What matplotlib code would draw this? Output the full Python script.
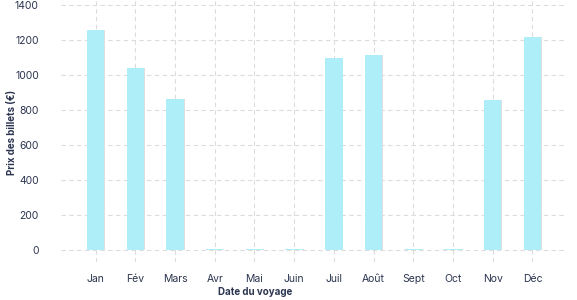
import numpy as np
import matplotlib
matplotlib.use("Agg")
import matplotlib.pyplot as plt

months = ['Jan', 'Fév', 'Mars', 'Avr', 'Mai', 'Juin', 'Juil', 'Août', 'Sept', 'Oct', 'Nov', 'Déc']
prices = [1255, 1038, 865, 4, 4, 4, 1100, 1115, 4, 4, 855, 1215]
y_ticks = [0, 200, 400, 600, 800, 1000, 1200, 1400]

text_color = '#2b3550'
bar_color = '#aeeef8'
grid_color = '#dcdcdc'

plt.rcParams['font.family'] = ['Inter', 'DejaVu Sans']

fig = plt.figure(figsize=(5.77, 3.0), dpi=100)
ax = fig.add_axes([61 / 577, 38 / 300, 506 / 577, 262 / 300])

x = np.arange(len(months))
# faint shadow on the right of each bar
ax.bar(x + 0.02, prices, width=0.44, color='#dedede', zorder=2)
ax.bar(x, prices, width=0.44, color=bar_color, zorder=3)

ax.set_xlim(-0.87, 11.87)
ax.set_ylim(-68.6, 1428.6)
ax.set_xticks(x)
ax.set_xticklabels(months)
ax.set_yticks(y_ticks)

ax.grid(True, color=grid_color, linestyle=(0, (4, 3)), linewidth=0.8, zorder=0)
ax.tick_params(length=0, labelsize=7.5, colors=text_color)
ax.tick_params(axis='x', pad=9)
ax.tick_params(axis='y', pad=16)
for s in ax.spines.values():
    s.set_visible(False)

ax.set_xlabel('Date du voyage', fontsize=7, fontweight='bold', color=text_color)
ax.set_ylabel('Prix des billets (€)', fontsize=7, fontweight='bold', color=text_color)
ax.xaxis.set_label_coords((255 - 61) / 506, (262 - 287) / 262)
ax.yaxis.set_label_coords((17 - 61) / 506, (262 - 132) / 262)

fig.savefig('out.png', dpi=100)
